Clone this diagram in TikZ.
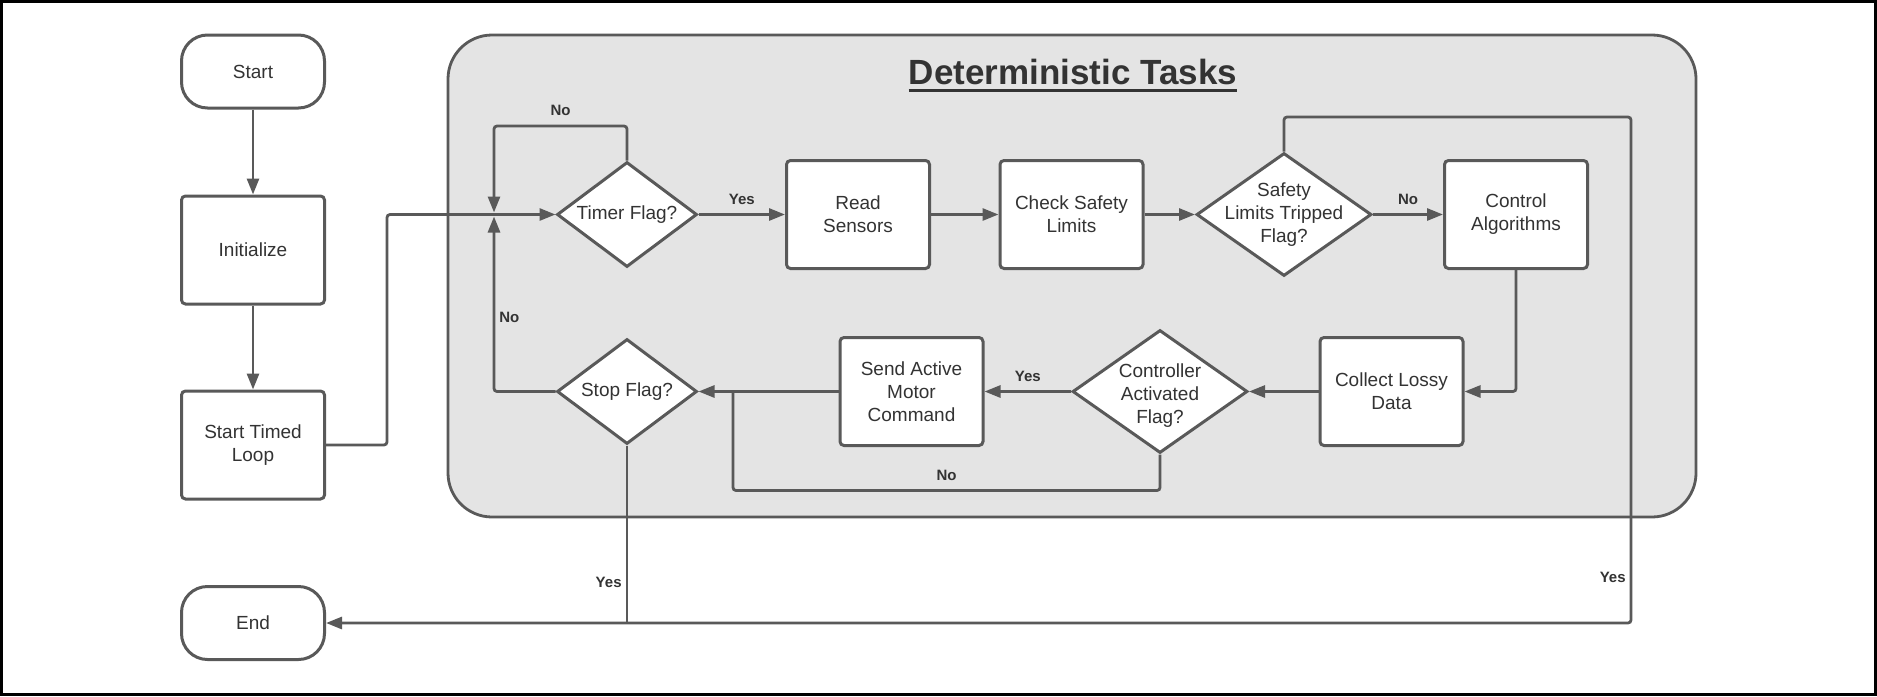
\documentclass[tikz,border=0pt]{standalone}
\usepackage{fontspec}
\setmainfont{Liberation Sans}
\usetikzlibrary{shapes, arrows.meta}
\definecolor{linegray}{HTML}{595959}
\definecolor{textgray}{HTML}{333333}
\definecolor{panelgray}{HTML}{E4E4E4}
\tikzset{
	line/.style={draw=linegray, line width=1.4pt, rounded corners=1.5pt},
	arr/.style={line, -{Triangle[length=8pt, width=6pt]}},
	box/.style={draw=linegray, line width=1.5pt, fill=white, rounded corners=2pt, minimum width=71.5pt, minimum height=54pt, align=center, text=textgray, font=\fontsize{9.5}{11.5}\selectfont},
	term/.style={box, rounded corners=13pt, minimum height=36.5pt},
	decision/.style={draw=linegray, line width=1.5pt, fill=white, diamond, inner sep=0pt},
	smalldia/.style={decision, minimum width=70pt, minimum height=52.5pt},
	bigdia/.style={decision, minimum width=87.5pt, minimum height=61.5pt},
	txt/.style={align=center, text=textgray, font=\fontsize{9.5}{11.5}\selectfont},
	lbl/.style={text=textgray, font=\bfseries\fontsize{7.5}{9}\selectfont, inner sep=2pt},
}

\begin{document}
\begin{tikzpicture}[x=0.5pt, y=-0.5pt]
	\useasboundingbox (0,0) rectangle (1877,696);
	\draw[line width=1.5pt] (1.5,1.5) rectangle (1875.5,694.5);
	
	\draw[line, fill=panelgray, rounded corners=22pt, line width=1.4pt] (448,35) rectangle (1696,517);
	\node[font=\bfseries\fontsize{17.5}{20}\selectfont, text=textgray, inner sep=0pt] (title) at (1073,72) {Deterministic Tasks};
	\draw[textgray, line width=1.3pt] ([yshift=-3pt]title.base west) -- ([yshift=-3pt]title.base east);
	
	\node[term] (start) at (253,71.5) {Start};
	\node[box] (init) at (253,250) {Initialize};
	\node[box] (timed) at (253,445) {Start Timed\\Loop};
	\node[term] (endn) at (253,623) {End};
	
	\node[smalldia, label={[txt]center:Timer Flag?}] (timer) at (627,214.5) {};
	\node[box] (read) at (858,214.5) {Read\\Sensors};
	\node[box] (check) at (1071.5,214.5) {Check Safety\\Limits};
	\node[bigdia, label={[txt]center:{Safety\\Limits Tripped\\Flag?}}] (safe) at (1284,214.5) {};
	\node[box] (ctrl) at (1516,214.5) {Control\\Algorithms};
	
	\node[box] (collect) at (1391.5,391.5) {Collect Lossy\\Data};
	\node[bigdia, label={[txt, yshift=-2pt]center:{Controller\\Activated\\Flag?}}] (contr) at (1160,391.5) {};
	\node[box] (send) at (911.5,391.5) {Send Active\\Motor\\Command};
	\node[smalldia, label={[txt]center:Stop Flag?}] (stop) at (627,391.5) {};
	
	\coordinate (lp) at (494,214.5);
	\coordinate (lptop) at (494,126);
	\coordinate (jl) at (387,214.5);
	\coordinate (ytop) at (1631,117);
	\coordinate (yr) at (1631,623);
	\coordinate (nj) at (733,391.5);
	
	\draw[arr] (start) -- (init);
	\draw[arr] (init) -- (timed);
	\draw[arr] (timed.east) -| (jl) -- (timer.west);
	\draw[arr, shorten >=1pt] (timer.north) |- node[lbl, above=2.5pt, pos=0.75] {No} (lptop) -- (lp);
	\draw[arr, shorten >=1pt] (stop.west) -| node[lbl, right, pos=0.71] {No} (lp);
	
	\draw[arr] (timer.east) -- node[lbl, above=2pt] {Yes} (read.west);
	\draw[arr] (read) -- (check);
	\draw[arr] (check) -- (safe);
	\draw[arr] (safe.east) -- node[lbl, above=2pt] {No} (ctrl.west);
	\draw[arr] (safe.north) |- (ytop) -- node[lbl, left, pos=0.91] {Yes} (yr) -- (endn.east);
	\draw[line] (stop.south) -- node[lbl, left, pos=0.77] {Yes} (stop.south |- yr);
	
	\draw[arr] (ctrl.south) |- (collect.east);
	\draw[arr] (collect) -- (contr);
	\draw[arr] (contr.west) -- node[lbl, above=2pt] {Yes} (send.east);
	\draw[arr] (send) -- (stop);
	\draw[line] (contr.south) -- ++(0,36) -| node[lbl, above=2pt, pos=0.25] {No} (nj);
\end{tikzpicture}
\end{document}
